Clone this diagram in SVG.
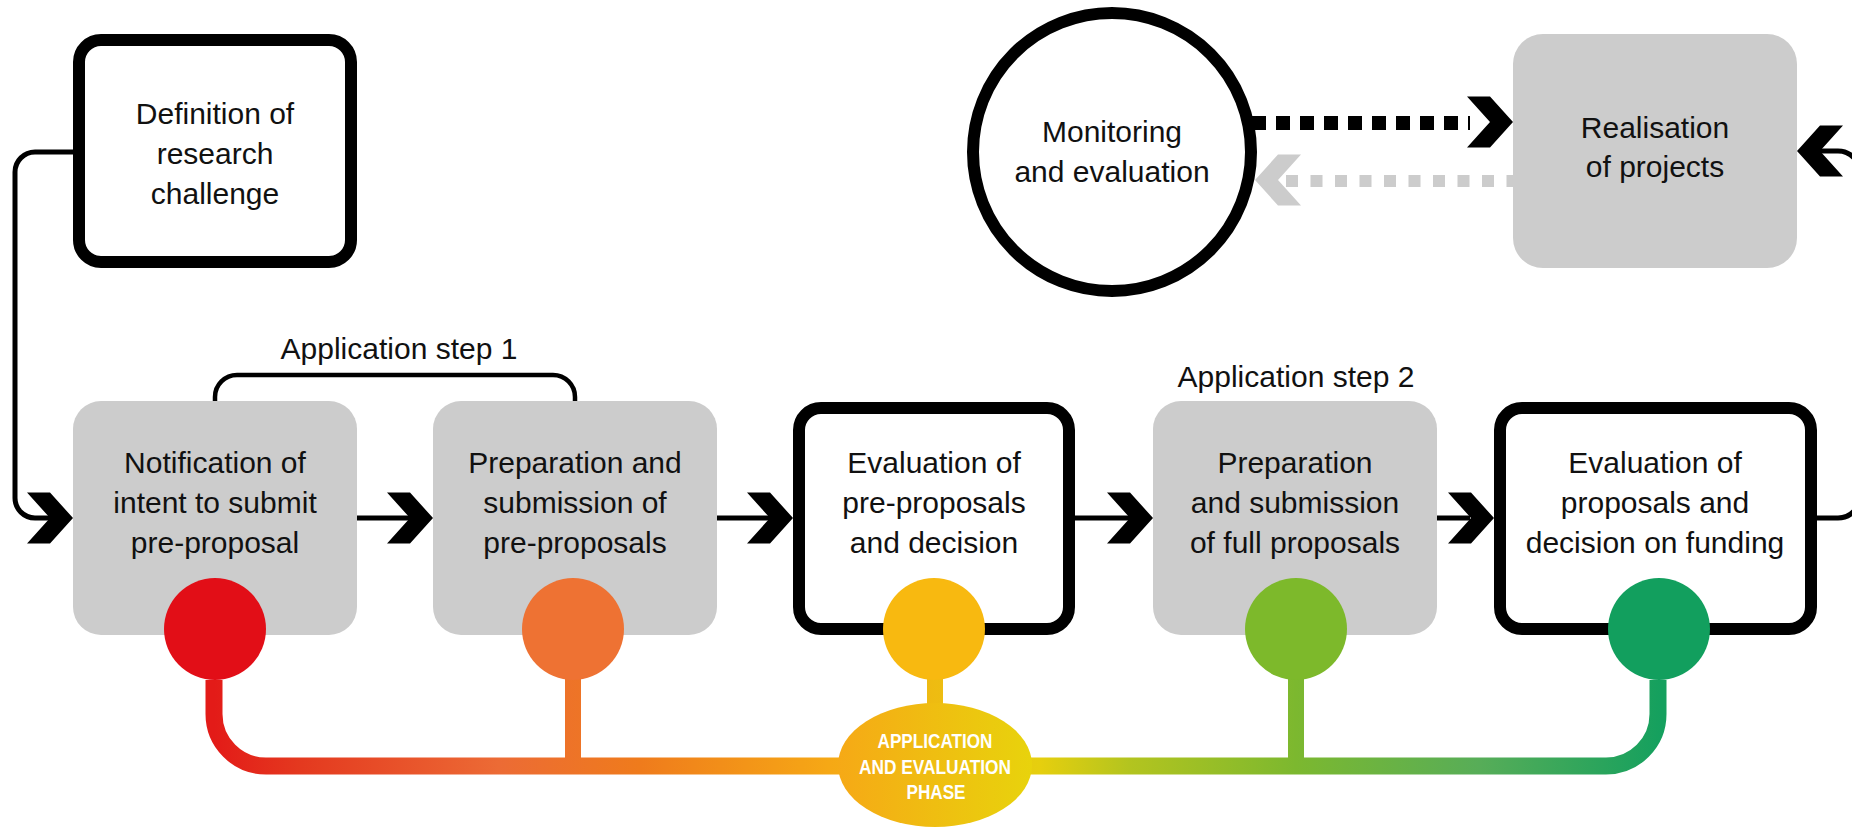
<svg xmlns="http://www.w3.org/2000/svg" xmlns:xlink="http://www.w3.org/1999/xlink" width="1852" height="827" viewBox="0 0 1852 827">
<style>
.lbl{font-family:"Liberation Sans",Arial,sans-serif;font-size:30px;fill:#111;text-anchor:middle}
.gray{fill:#cccccc}
.wbox{fill:#ffffff;stroke:#000;stroke-width:12}
.line{fill:none;stroke:#000;stroke-width:5}
.bar{fill:none;stroke:url(#phaseGrad);stroke-width:17}
.stem{fill:none;stroke:url(#phaseGrad);stroke-width:16}
.ph{font-family:"Liberation Sans",Arial,sans-serif;font-weight:bold;font-size:21px;fill:#fff;text-anchor:middle}
</style>
<defs>
<path id="chev" d="M-46,-25.5 L-23,-25.5 L0,0 L-23,25.5 L-46,25.5 L-23,0 Z"/>
<linearGradient id="phaseGrad" gradientUnits="userSpaceOnUse" x1="214" y1="0" x2="1660" y2="0">
<stop offset="0" stop-color="#e31b18"/>
<stop offset="0.06" stop-color="#e4391f"/>
<stop offset="0.197" stop-color="#ec6b35"/>
<stop offset="0.294" stop-color="#ef7b1c"/>
<stop offset="0.425" stop-color="#f6a815"/>
<stop offset="0.571" stop-color="#e6cf0e"/>
<stop offset="0.633" stop-color="#b3c41f"/>
<stop offset="0.748" stop-color="#7cb82f"/>
<stop offset="0.875" stop-color="#57ad58"/>
<stop offset="1" stop-color="#15a05e"/>
</linearGradient>
<linearGradient id="ellGrad" x1="0" y1="0" x2="1" y2="0">
<stop offset="0" stop-color="#f6a916"/>
<stop offset="1" stop-color="#e8d30c"/>
</linearGradient>
</defs>

<g id="connectors">
<path class="line" d="M73,152 H35 A20,20 0 0 0 15,172 V498 A20,20 0 0 0 35,518 H50"/>
<use xlink:href="#chev" x="73" y="518"/>
<path class="line" d="M357,518 H410"/>
<use xlink:href="#chev" x="433" y="518"/>
<path class="line" d="M717,518 H770"/>
<use xlink:href="#chev" x="793" y="518"/>
<path class="line" d="M1075,518 H1130"/>
<use xlink:href="#chev" x="1153" y="518"/>
<path class="line" d="M1437,518 H1470"/>
<use xlink:href="#chev" x="1494" y="518"/>
<path class="line" d="M1817,518 H1838 A22,22 0 0 0 1860,496 V173 A22,22 0 0 0 1838,151 H1815"/>
<use xlink:href="#chev" transform="translate(1797,151) scale(-1,1)"/>
<path fill="none" stroke="#000" stroke-width="4.5" d="M215,401 V397 A22,22 0 0 1 237,375 H553 A22,22 0 0 1 575,397 V401"/>
<path fill="none" stroke="#000" stroke-width="14" stroke-dasharray="14 10" d="M1252,123 H1470"/>
<use xlink:href="#chev" x="1513" y="122"/>
<path fill="none" stroke="#cccccc" stroke-width="12" stroke-dasharray="12 12.5" d="M1286,181 H1513"/>
<use xlink:href="#chev" fill="#cccccc" transform="translate(1255,180) scale(-1,1)"/>
<path class="bar" d="M214,680 V714 A52,52 0 0 0 266,766 H1606 A52,52 0 0 0 1658,714 V680"/>
<path class="stem" d="M573,670 V766"/>
<path class="stem" d="M935,670 V710"/>
<path class="stem" d="M1296,670 V766"/>
</g>

<g id="definition">
<rect class="wbox" x="79" y="40" width="272" height="222" rx="22"/>
<text class="lbl" x="215" y="124">Definition of</text>
<text class="lbl" x="215" y="164">research</text>
<text class="lbl" x="215" y="204">challenge</text>
</g>

<g id="monitoring">
<circle cx="1112" cy="152" r="139" fill="#fff" stroke="#000" stroke-width="12"/>
<text class="lbl" x="1112" y="142">Monitoring</text>
<text class="lbl" x="1112" y="182">and evaluation</text>
</g>

<g id="realisation">
<rect class="gray" x="1513" y="34" width="284" height="234" rx="30"/>
<text class="lbl" x="1655" y="138">Realisation</text>
<text class="lbl" x="1655" y="177">of projects</text>
</g>

<g id="step1-label">
<text class="lbl" x="399" y="359">Application step 1</text>
</g>
<g id="step2-label">
<text class="lbl" x="1296" y="387">Application step 2</text>
</g>

<g id="notification">
<rect class="gray" x="73" y="401" width="284" height="234" rx="28"/>
<text class="lbl" x="215" y="473">Notification of</text>
<text class="lbl" x="215" y="513">intent to submit</text>
<text class="lbl" x="215" y="553">pre-proposal</text>
</g>

<g id="prep-pre">
<rect class="gray" x="433" y="401" width="284" height="234" rx="28"/>
<text class="lbl" x="575" y="473">Preparation and</text>
<text class="lbl" x="575" y="513">submission of</text>
<text class="lbl" x="575" y="553">pre-proposals</text>
</g>

<g id="eval-pre">
<rect class="wbox" x="799" y="408" width="270" height="221" rx="22"/>
<text class="lbl" x="934" y="473">Evaluation of</text>
<text class="lbl" x="934" y="513">pre-proposals</text>
<text class="lbl" x="934" y="553">and decision</text>
</g>

<g id="prep-full">
<rect class="gray" x="1153" y="401" width="284" height="234" rx="28"/>
<text class="lbl" x="1295" y="473">Preparation</text>
<text class="lbl" x="1295" y="513">and submission</text>
<text class="lbl" x="1295" y="553">of full proposals</text>
</g>

<g id="eval-full">
<rect class="wbox" x="1500" y="408" width="311" height="221" rx="22"/>
<text class="lbl" x="1655" y="473">Evaluation of</text>
<text class="lbl" x="1655" y="513">proposals and</text>
<text class="lbl" x="1655" y="553">decision on funding</text>
</g>

<g id="phase-dots">
<circle cx="215" cy="629" r="51" fill="#e20e17"/>
<circle cx="573" cy="629" r="51" fill="#ee7233"/>
<circle cx="934" cy="629" r="51" fill="#f8b910"/>
<circle cx="1296" cy="629" r="51" fill="#7db92b"/>
<circle cx="1659" cy="629" r="51" fill="#129f5e"/>
</g>

<g id="phase">
<ellipse cx="935" cy="765" rx="97" ry="62" fill="url(#ellGrad)"/>
<text class="ph" x="935" y="748" textLength="115" lengthAdjust="spacingAndGlyphs">APPLICATION</text>
<text class="ph" x="935" y="774" textLength="152" lengthAdjust="spacingAndGlyphs">AND EVALUATION</text>
<text class="ph" x="936" y="799" textLength="59" lengthAdjust="spacingAndGlyphs">PHASE</text>
</g>
</svg>
